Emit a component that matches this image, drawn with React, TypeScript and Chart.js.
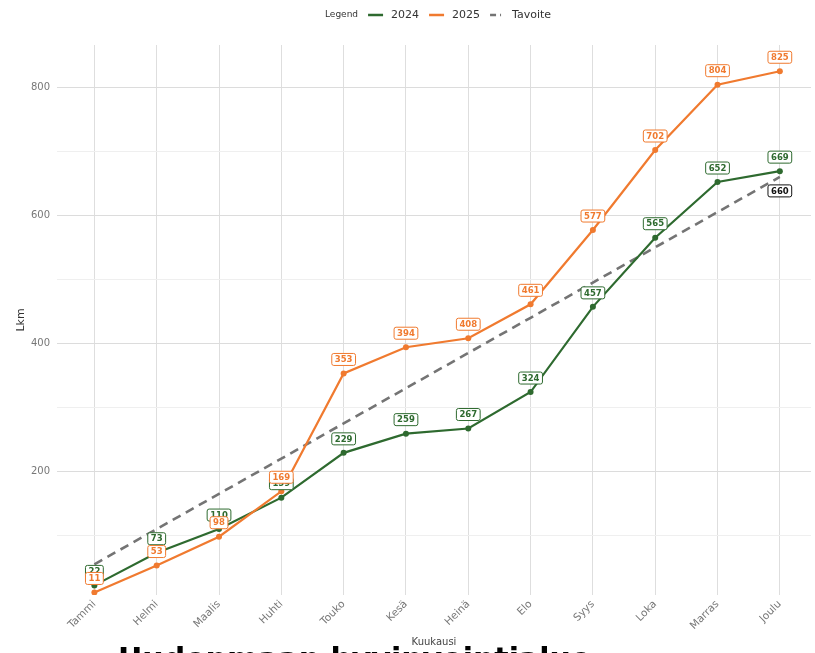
import React, { useEffect, useRef } from "react";
import { Chart, registerables } from "chart.js";

Chart.register(...registerables);

const months = ["Tammi", "Helmi", "Maalis", "Huhti", "Touko", "Kesä", "Heinä", "Elo", "Syys", "Loka", "Marras", "Joulu"];
const values2024 = [22, 73, 110, 159, 229, 259, 267, 324, 457, 565, 652, 669];
const values2025 = [11, 53, 98, 169, 353, 394, 408, 461, 577, 702, 804, 825];
const targetValues = [55, 110, 165, 220, 275, 330, 385, 440, 495, 550, 605, 660];
const targetLabelIndexes = [11];
const yTickValues = [100, 200, 300, 400, 500, 600, 700, 800];
const yLabelValues = [200, 400, 600, 800];
const legendTitle = "Legend";
const seriesNames = ["2024", "2025", "Tavoite"];
const xTitle = "Kuukausi";
const yTitle = "Lkm";
const bottomTitle = "Uudenmaan hyvinvointialue";

const GREEN = "#2e6a2f";
const ORANGE = "#f07a2f";
const GRAY = "#747474";
const FONT = "'DejaVu Sans', sans-serif";

const labelPlugin = {
  id: "valueLabels",
  afterDatasetsDraw(chart: any) {
    const ctx = chart.ctx;
    ctx.save();
    ctx.font = `bold 8.5px ${FONT}`;
    ctx.textAlign = "center";
    ctx.textBaseline = "middle";
    const order = [1, 2, 0];
    order.forEach((di) => {
      const ds = chart.data.datasets[di];
      const meta = chart.getDatasetMeta(di);
      const show: number[] | null = ds.labelIndexes || null;
      const below = !!ds.labelBelow;
      const color = ds.labelColor;
      meta.data.forEach((pt: any, i: number) => {
        if (show && !show.includes(i)) return;
        const v = ds.data[i].y;
        const text = String(v);
        const w = ctx.measureText(text).width + 6;
        const h = 12;
        const cx = pt.x;
        const cy = below ? pt.y + 14 : pt.y - 14;
        ctx.beginPath();
        ctx.roundRect(cx - w / 2, cy - h / 2, w, h, 2);
        ctx.fillStyle = "#ffffff";
        ctx.fill();
        ctx.lineWidth = 1;
        ctx.strokeStyle = color;
        ctx.stroke();
        ctx.fillStyle = color;
        ctx.fillText(text, cx, cy + 0.5);
      });
    });
    ctx.restore();
  },
};

const legendPlugin = {
  id: "customLegend",
  afterDraw(chart: any) {
    const ctx = chart.ctx;
    ctx.save();
    const y = 15;
    let x = 325;
    ctx.textBaseline = "middle";
    ctx.textAlign = "left";
    ctx.fillStyle = "#333";
    ctx.font = `9px ${FONT}`;
    ctx.fillText(legendTitle, x, y);
    x += ctx.measureText(legendTitle).width + 10;
    const colors = [GREEN, ORANGE, GRAY];
    const dashes = [[], [], [6, 4]];
    ctx.font = `11px ${FONT}`;
    seriesNames.forEach((name, i) => {
      const sw = i === 2 ? 11 : 15;
      ctx.beginPath();
      ctx.setLineDash(dashes[i]);
      ctx.strokeStyle = colors[i];
      ctx.lineWidth = 2.5;
      ctx.moveTo(x, y);
      ctx.lineTo(x + sw, y);
      ctx.stroke();
      ctx.setLineDash([]);
      x += sw + (i === 2 ? 11 : 8);
      ctx.fillStyle = "#333";
      ctx.fillText(name, x, y);
      x += ctx.measureText(name).width + 10;
    });
    ctx.restore();
  },
};

export default function App() {
  const canvasRef = useRef<HTMLCanvasElement | null>(null);

  useEffect(() => {
    if (!canvasRef.current) return;
    const toPts = (arr: number[]) => arr.map((v, i) => ({ x: i, y: v }));
    const chart = new Chart(canvasRef.current, {
      type: "line",
      data: {
        datasets: [
          {
            label: seriesNames[2],
            data: toPts(targetValues),
            borderColor: GRAY,
            borderWidth: 2.6,
            borderDash: [9, 6],
            pointRadius: 0,
            labelIndexes: targetLabelIndexes,
            labelBelow: true,
            labelColor: "#111111",
            order: 3,
          } as any,
          {
            label: seriesNames[0],
            data: toPts(values2024),
            borderColor: GREEN,
            backgroundColor: GREEN,
            borderWidth: 2.2,
            pointRadius: 3,
            pointBorderWidth: 0,
            labelColor: GREEN,
            order: 2,
          } as any,
          {
            label: seriesNames[1],
            data: toPts(values2025),
            borderColor: ORANGE,
            backgroundColor: ORANGE,
            borderWidth: 2.2,
            pointRadius: 3,
            pointBorderWidth: 0,
            labelColor: ORANGE,
            order: 1,
          } as any,
        ],
      },
      options: {
        animation: false,
        responsive: false,
        maintainAspectRatio: false,
        layout: { padding: { top: 45, left: 0, right: 0, bottom: 0 } },
        plugins: {
          legend: { display: false },
          tooltip: { enabled: false },
        },
        elements: { line: { tension: 0 } },
        scales: {
          x: {
            type: "linear",
            min: -0.6,
            max: 11.5,
            afterBuildTicks: (s: any) => {
              s.ticks = months.map((_, i) => ({ value: i }));
            },
            afterFit: (s: any) => {
              s.height = 58;
              s.paddingLeft = 0;
              s.paddingRight = 0;
            },
            ticks: {
              autoSkip: false,
              minRotation: 45,
              maxRotation: 45,
              padding: 3,
              color: "#777",
              font: { family: FONT, size: 10.5 },
              callback: (v: any) => months[v] ?? "",
            },
            grid: { color: "#dedede", lineWidth: 1, drawTicks: false },
            border: { display: false },
            title: {
              display: true,
              text: xTitle,
              color: "#444",
              font: { family: FONT, size: 10 },
              padding: { top: 0, bottom: 5 },
            },
          },
          y: {
            min: 7,
            max: 866,
            afterBuildTicks: (s: any) => {
              s.ticks = yTickValues.map((v) => ({ value: v }));
            },
            afterFit: (s: any) => {
              s.width = 57;
            },
            ticks: {
              color: "#777",
              padding: 7,
              font: { family: FONT, size: 10 },
              callback: (v: any) => (yLabelValues.includes(v) ? String(v) : ""),
            },
            grid: {
              color: (c: any) => (c.tick && yLabelValues.includes(c.tick.value) ? "#dcdcdc" : "#efefef"),
              lineWidth: 1,
              drawTicks: false,
            },
            border: { display: false },
            title: {
              display: true,
              text: yTitle,
              color: "#333",
              font: { family: FONT, size: 11 },
              padding: { top: 15, bottom: 0 },
            },
          },
        },
      } as any,
      plugins: [labelPlugin, legendPlugin],
    });
    return () => chart.destroy();
  }, []);

  return (
    <div
      style={{
        position: "absolute",
        left: 0,
        top: 0,
        width: 815,
        height: 653,
        overflow: "hidden",
        background: "#ffffff",
      }}
    >
      <canvas ref={canvasRef} width={815} height={653} style={{ display: "block" }} />
      <div
        style={{
          position: "absolute",
          left: 118,
          top: 644,
          font: `bold 30px ${FONT}`,
          lineHeight: "30px",
          color: "#000",
          whiteSpace: "nowrap",
        }}
      >
        {bottomTitle}
      </div>
    </div>
  );
}
